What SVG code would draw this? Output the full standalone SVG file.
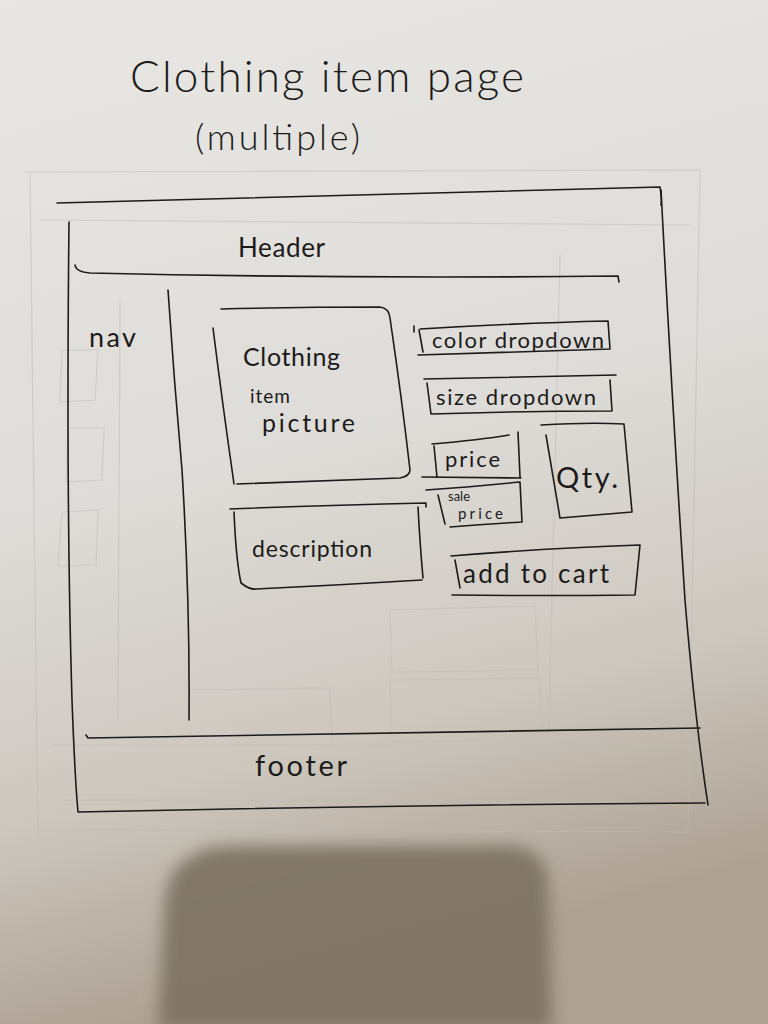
<svg xmlns="http://www.w3.org/2000/svg" width="768" height="1024" viewBox="0 0 768 1024">
  <defs>
    <linearGradient id="paper" x1="0" y1="0" x2="0.2" y2="1">
      <stop offset="0" stop-color="#e8e7e4"/>
      <stop offset="0.5" stop-color="#dedcd8"/>
      <stop offset="0.78" stop-color="#cdc7be"/>
      <stop offset="1" stop-color="#ada193"/>
    </linearGradient>
    <filter id="soft" x="-20%" y="-20%" width="140%" height="140%">
      <feGaussianBlur stdDeviation="8"/>
    </filter>
    <style>
      .ink { fill: none; stroke: #1c1b1a; stroke-width: 1.6; stroke-linecap: round; stroke-linejoin: round; }
      .ghost { fill: none; stroke: #bebcb7; stroke-width: 1.2; opacity: 0.5; }
      .hand { font-family: "Lato", "Liberation Sans", sans-serif; fill: #1c1b1a; font-weight: 400; }
      .title { font-weight: 300; }
    </style>
  </defs>

  <!-- paper -->
  <rect x="0" y="0" width="768" height="1024" fill="url(#paper)"/>

  <!-- phone shadow at the bottom -->
  <path d="M195,856 Q200,846 240,846 L510,846 Q545,849 548,880 L552,1030 L158,1030 L165,900 Q170,862 195,856 Z" fill="#7d7264" filter="url(#soft)" opacity="0.92"/>

  <!-- faint lines bleeding through from the sheet underneath -->
  <g id="ghost">
    <path class="ghost" d="M22,172 L700,170 M30,172 L38,835 M700,170 L688,830 M35,830 L690,832"/>
    <path class="ghost" d="M40,220 L690,225 M50,745 L680,745 M60,800 L675,803"/>
    <path class="ghost" d="M560,255 L548,760 M120,300 L118,720"/>
    <path class="ghost" d="M62,350 L98,350 L95,400 L60,402 Z M68,428 L104,428 L102,480 L66,482 Z M62,512 L98,510 L96,565 L58,566 Z"/>
    <path class="ghost" d="M390,610 L535,606 L538,670 L392,672 Z M390,680 L540,678 L542,740 L392,742 Z M190,690 L330,688 L332,745"/>
  </g>

  <!-- title -->
  <g id="title">
    <text class="hand title" x="130" y="92" style="font-size:44px" textLength="394" lengthAdjust="spacing">Clothing item page</text>
    <text class="hand title" x="195" y="150" style="font-size:36px" textLength="165" lengthAdjust="spacing">(multiple)</text>
  </g>

  <!-- outer page frame -->
  <g id="page">
    <path class="ink" d="M57,203 Q300,196 660,187 Q662,200 661,205"/>
    <path class="ink" d="M661,190 Q672,400 685,600 Q695,720 708,805"/>
    <path class="ink" d="M69,222 Q66,500 72,700 Q75,780 78,812 Q400,805 705,803"/>
  </g>

  <!-- header -->
  <g id="header">
    <path class="ink" d="M75,265 Q76,272 90,273 Q350,279 618,276 L619,282"/>
    <text class="hand" x="238" y="257" style="font-size:26px" textLength="87" lengthAdjust="spacing">Header</text>
  </g>

  <!-- nav -->
  <g id="nav">
    <path class="ink" d="M168,290 Q174,380 182,470 Q190,600 189,720"/>
    <text class="hand" x="89" y="347" style="font-size:27px" textLength="47" lengthAdjust="spacing">nav</text>
  </g>

  <!-- footer -->
  <g id="footer">
    <path class="ink" d="M86,735 L88,738 Q400,732 700,728"/>
    <text class="hand" x="255" y="776" style="font-size:29px" textLength="92" lengthAdjust="spacing">footer</text>
  </g>

  <!-- clothing item picture -->
  <g id="picture">
    <path class="ink" d="M221,309 Q300,307 380,307 Q389,308 390,318 Q402,400 410,470 Q410,476 400,478 L237,484"/>
    <path class="ink" d="M213,328 Q222,400 234,484"/>
    <text class="hand" x="243" y="366" style="font-size:25px" textLength="97" lengthAdjust="spacing">Clothing</text>
    <text class="hand" x="250" y="403" style="font-size:19px" textLength="40" lengthAdjust="spacing">item</text>
    <text class="hand" x="262" y="432" style="font-size:25px" textLength="93" lengthAdjust="spacing">picture</text>
  </g>

  <!-- description -->
  <g id="description">
    <path class="ink" d="M230,509 Q330,505 426,503 L426,507"/>
    <path class="ink" d="M234,512 Q236,560 241,583 Q250,590 256,589 Q340,585 422,580"/>
    <path class="ink" d="M418,507 Q420,545 423,578"/>
    <text class="hand" x="252" y="557" style="font-size:23px" textLength="120" lengthAdjust="spacing">description</text>
  </g>

  <!-- color dropdown -->
  <g id="color-dropdown">
    <path class="ink" d="M414,326 L414,332 M420,329 Q520,323 608,321 L610,349 Q520,352 418,355"/>
    <path class="ink" d="M419,330 L423,352"/>
    <text class="hand" x="432" y="348" style="font-size:22px" textLength="172" lengthAdjust="spacing">color dropdown</text>
  </g>

  <!-- size dropdown -->
  <g id="size-dropdown">
    <path class="ink" d="M424,379 Q520,377 616,375 M427,383 L431,414 Q520,411 612,411 L610,380"/>
    <text class="hand" x="436" y="405" style="font-size:22px" textLength="160" lengthAdjust="spacing">size dropdown</text>
  </g>

  <!-- price -->
  <g id="price">
    <path class="ink" d="M432,444 Q480,440 509,435 M434,446 L437,477 M518,432 L520,477 M422,477 L521,478"/>
    <text class="hand" x="445" y="467" style="font-size:22px" textLength="55" lengthAdjust="spacing">price</text>
  </g>

  <!-- sale price -->
  <g id="sale-price">
    <path class="ink" d="M426,490 Q470,487 520,482 L522,522 Q485,524 450,527 M438,495 L445,524"/>
    <text class="hand" x="448" y="501" style="font-size:13px">sale</text>
    <text class="hand" x="458" y="519" style="font-size:15px" textLength="45" lengthAdjust="spacing">price</text>
  </g>

  <!-- quantity -->
  <g id="qty">
    <path class="ink" d="M541,425 Q590,422 624,424 L632,512 L560,518 M546,435 L560,518"/>
    <text class="hand" x="556" y="488" style="font-size:29px" textLength="62" lengthAdjust="spacing">Qty.</text>
  </g>

  <!-- add to cart -->
  <g id="add-to-cart">
    <path class="ink" d="M451,556 Q550,548 640,545 L635,595 Q540,596 452,595"/>
    <path class="ink" d="M455,560 L460,588"/>
    <text class="hand" x="463" y="583" style="font-size:26px" textLength="146" lengthAdjust="spacing">add to cart</text>
  </g>
</svg>
